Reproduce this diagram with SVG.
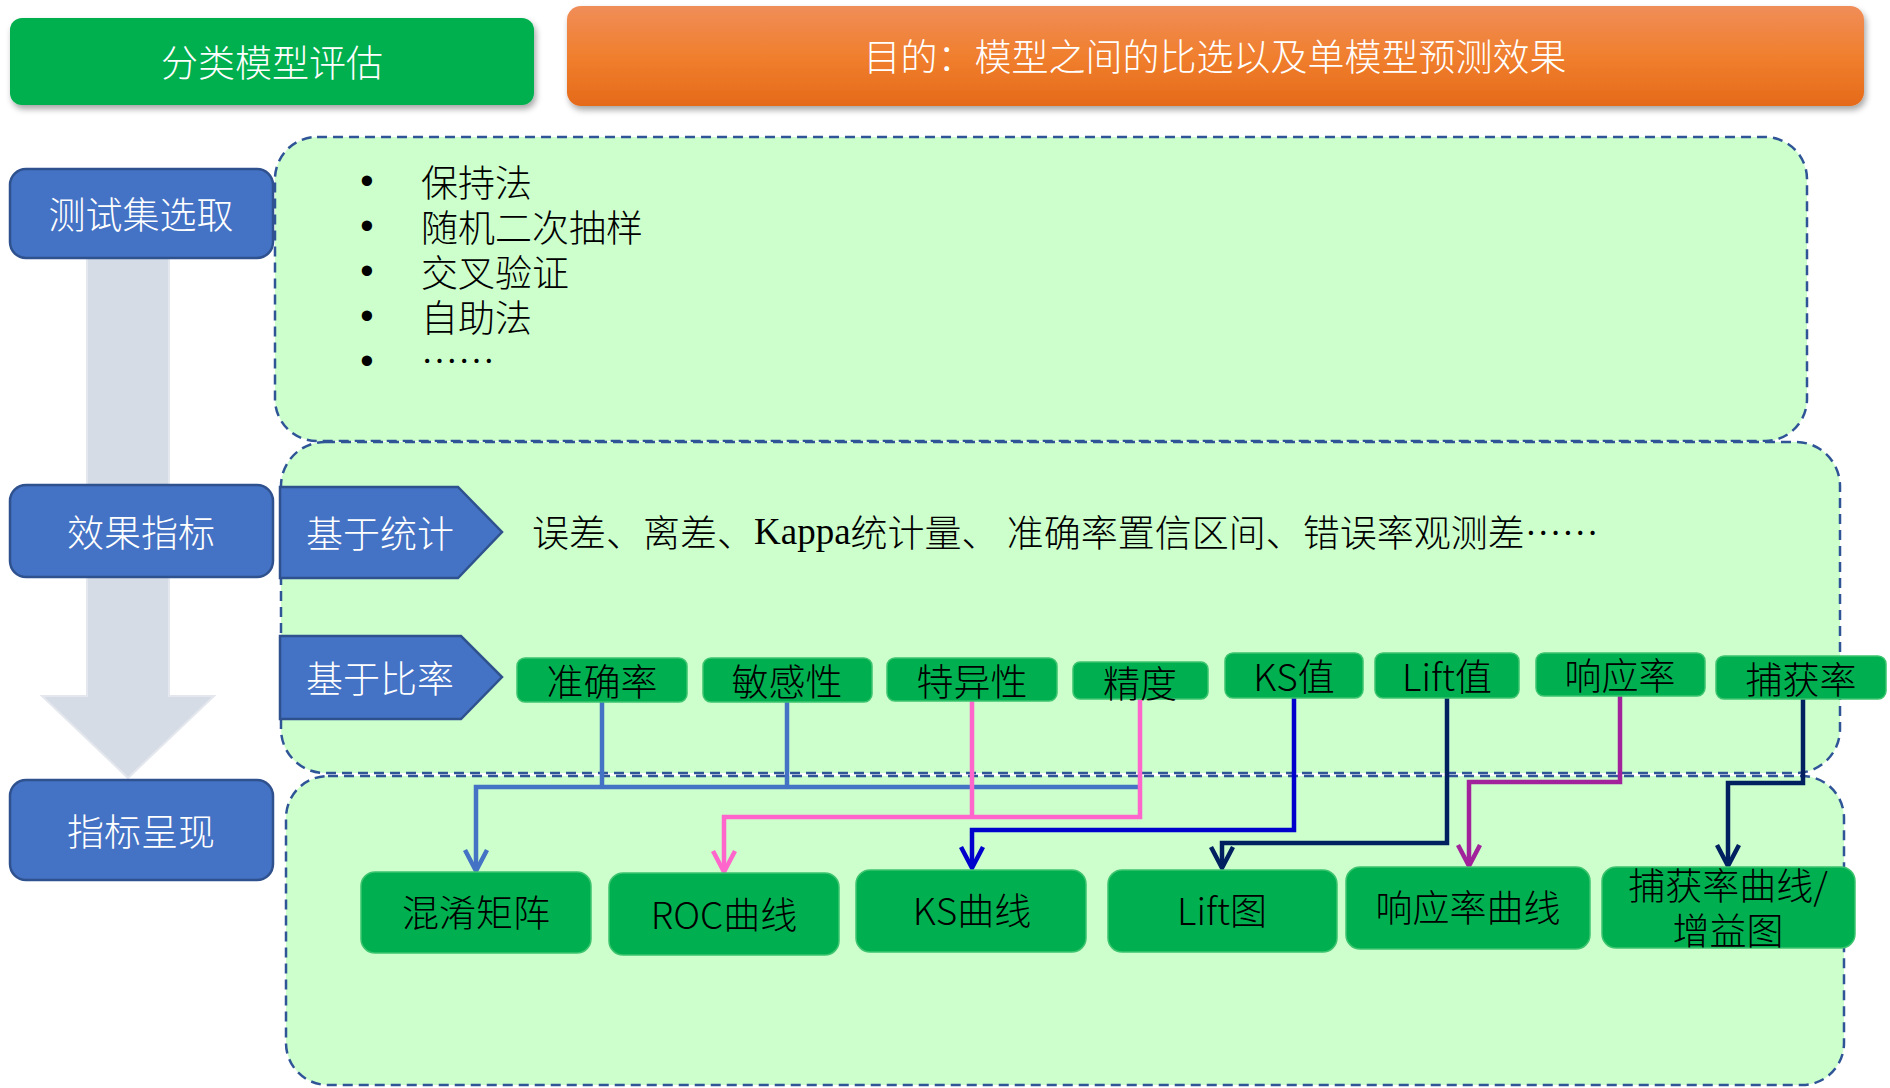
<svg xmlns="http://www.w3.org/2000/svg" width="1890" height="1088" viewBox="0 0 1890 1088">
<defs>
  <linearGradient id="orangeGrad" x1="0" y1="0" x2="0" y2="1">
    <stop offset="0" stop-color="#F08D58"/>
    <stop offset="0.5" stop-color="#F07F2E"/>
    <stop offset="1" stop-color="#E56A19"/>
  </linearGradient>
  <filter id="shadow" x="-5%" y="-20%" width="110%" height="150%">
    <feDropShadow dx="2" dy="4" stdDeviation="3" flood-color="#000" flood-opacity="0.35"/>
  </filter>
  <style>
    .cjk { font-family: "Noto Sans CJK SC", "Noto Sans", sans-serif; font-weight: 300; }
    .title { font-size: 37px; fill: #FFFFFF; text-anchor: middle; dominant-baseline: central; }
    .side { fill: #4472C4; stroke: #2F528F; stroke-width: 2.5; }
    .sideText { font-size: 37px; fill: #FFFFFF; text-anchor: middle; dominant-baseline: central; }
    .zone { fill: #CCFFCC; stroke: #2F5597; stroke-width: 2.5; stroke-dasharray: 10 6; }
    .metric { fill: #00B050; stroke: #3DC46F; stroke-width: 1.5; }
    .metricText { font-size: 37px; fill: #000000; text-anchor: middle; dominant-baseline: central; }
    .body { font-size: 37px; fill: #000000; dominant-baseline: central; }
    .bullet { font-family: "Liberation Sans", Arial, sans-serif; font-size: 38px; fill: #000; text-anchor: middle; dominant-baseline: central; }
    .conn { fill: none; stroke-width: 4.5; stroke-linejoin: miter; stroke-linecap: butt; }
    .head { fill: none; stroke-width: 4.5; stroke-linejoin: miter; }
  </style>
</defs>

<!-- big gray flow arrow -->
<g id="flow-arrow">
  <polygon points="87,250 169,250 169,696 214,696 128,778 42,696 87,696" fill="#D6DCE5" stroke="#E4E8EE" stroke-width="2"/>
</g>

<!-- zones -->
<g id="zone-test">
  <rect class="zone" x="275" y="137" width="1532" height="304" rx="42" ry="42"/>
</g>
<g id="zone-metric">
  <rect class="zone" x="281" y="442" width="1559" height="331" rx="44" ry="44"/>
</g>
<g id="zone-present">
  <rect class="zone" x="286" y="776" width="1558" height="309" rx="42" ry="42"/>
</g>

<!-- header -->
<g id="header-title">
  <rect x="10" y="18" width="524" height="87" rx="12" ry="12" fill="#00B050" filter="url(#shadow)"/>
  <text class="cjk title" x="272" y="61">分类模型评估</text>
</g>
<g id="header-purpose">
  <rect x="567" y="6" width="1297" height="100" rx="14" ry="14" fill="url(#orangeGrad)" filter="url(#shadow)"/>
  <text class="cjk title" x="1215" y="55">目的：模型之间的比选以及单模型预测效果</text>
</g>

<!-- left stage boxes -->
<g id="stage-test">
  <rect class="side" x="10" y="169" width="263" height="89" rx="16" ry="16"/>
  <text class="cjk sideText" x="141" y="213">测试集选取</text>
</g>
<g id="stage-metric">
  <rect class="side" x="10" y="485" width="263" height="92" rx="16" ry="16"/>
  <text class="cjk sideText" x="141" y="531">效果指标</text>
</g>
<g id="stage-present">
  <rect class="side" x="10" y="780" width="263" height="100" rx="16" ry="16"/>
  <text class="cjk sideText" x="141" y="830">指标呈现</text>
</g>

<!-- test set list -->
<g id="test-list">
  <text class="bullet"><tspan x="367" y="181">•</tspan><tspan x="367" y="226">•</tspan><tspan x="367" y="271">•</tspan><tspan x="367" y="316">•</tspan><tspan x="367" y="361">•</tspan></text>
  <text class="cjk body"><tspan x="421" y="181">保持法</tspan><tspan x="421" y="226">随机二次抽样</tspan><tspan x="421" y="271">交叉验证</tspan><tspan x="421" y="316">自助法</tspan><tspan x="421" y="359">……</tspan></text>
</g>

<!-- chevrons -->
<g id="chevron-stat">
  <polygon class="side" points="280,487 458,487 502,532 458,578 280,578"/>
  <text class="cjk sideText" x="380" y="532">基于统计</text>
</g>
<g id="chevron-ratio">
  <polygon class="side" points="280,636 461,636 502,677 461,719 280,719"/>
  <text class="cjk sideText" x="380" y="677">基于比率</text>
</g>

<g id="stat-text">
  <text class="cjk body" x="532" y="531">误差、离差、<tspan font-family="'Liberation Serif', serif" font-weight="400">Kappa</tspan>统计量、 准确率置信区间、错误率观测差……</text>
</g>

<!-- connectors -->
<g id="connectors">
  <!-- blue: 准确率/敏感性/精度 -> 混淆矩阵 -->
  <g stroke="#4472C4">
    <polyline class="conn" points="602,702 602,787"/>
    <polyline class="conn" points="787,702 787,787"/>
    <polyline class="conn" points="1140,787 476,787 476,869"/>
    <polyline class="head" points="465,850 476,871 487,850"/>
  </g>
  <!-- pink: 特异性/精度 -> ROC -->
  <g stroke="#FF66CC">
    <polyline class="conn" points="972,701 972,817"/>
    <polyline class="conn" points="1140,699 1140,817 724,817 724,870"/>
    <polyline class="head" points="713,851 724,872 735,851"/>
  </g>
  <!-- KS值 -> KS曲线 -->
  <g stroke="#0000CC">
    <polyline class="conn" points="1294,698 1294,830 972,830 972,866"/>
    <polyline class="head" points="961,847 972,868 983,847"/>
  </g>
  <!-- Lift值 -> Lift图 -->
  <g stroke="#002060">
    <polyline class="conn" points="1447,698 1447,843 1222,843 1222,866"/>
    <polyline class="head" points="1211,847 1222,868 1233,847"/>
  </g>
  <!-- 响应率 -> 响应率曲线 -->
  <g stroke="#A2229C">
    <polyline class="conn" points="1620,696 1620,782 1469,782 1469,864"/>
    <polyline class="head" points="1458,845 1469,866 1480,845"/>
  </g>
  <!-- 捕获率 -> 捕获率曲线/增益图 -->
  <g stroke="#002060">
    <polyline class="conn" points="1803,699 1803,783 1728,783 1728,864"/>
    <polyline class="head" points="1717,845 1728,866 1739,845"/>
  </g>
</g>

<!-- metric boxes -->
<g id="m-accuracy">
  <rect class="metric" x="517" y="658" width="170" height="44" rx="8" ry="8"/>
  <text class="cjk metricText" x="602" y="680">准确率</text>
</g>
<g id="m-sensitivity">
  <rect class="metric" x="703" y="658" width="169" height="44" rx="8" ry="8"/>
  <text class="cjk metricText" x="787" y="680">敏感性</text>
</g>
<g id="m-specificity">
  <rect class="metric" x="887" y="658" width="170" height="43" rx="8" ry="8"/>
  <text class="cjk metricText" x="972" y="680">特异性</text>
</g>
<g id="m-precision">
  <rect class="metric" x="1073" y="662" width="135" height="37" rx="7" ry="7"/>
  <text class="cjk metricText" x="1140" y="682">精度</text>
</g>
<g id="m-ks">
  <rect class="metric" x="1225" y="653" width="138" height="45" rx="8" ry="8"/>
  <text class="cjk metricText" x="1294" y="675">KS值</text>
</g>
<g id="m-lift">
  <rect class="metric" x="1375" y="653" width="144" height="45" rx="8" ry="8"/>
  <text class="cjk metricText" x="1447" y="675">Lift值</text>
</g>
<g id="m-response">
  <rect class="metric" x="1536" y="653" width="169" height="43" rx="8" ry="8"/>
  <text class="cjk metricText" x="1620" y="674">响应率</text>
</g>
<g id="m-capture">
  <rect class="metric" x="1716" y="656" width="170" height="43" rx="8" ry="8"/>
  <text class="cjk metricText" x="1801" y="678">捕获率</text>
</g>

<!-- presentation boxes -->
<g id="p-confusion">
  <rect class="metric" x="361" y="872" width="230" height="81" rx="14" ry="14"/>
  <text class="cjk metricText" x="476" y="911">混淆矩阵</text>
</g>
<g id="p-roc">
  <rect class="metric" x="609" y="873" width="230" height="82" rx="14" ry="14"/>
  <text class="cjk metricText" x="724" y="913">ROC曲线</text>
</g>
<g id="p-ks">
  <rect class="metric" x="856" y="870" width="230" height="82" rx="14" ry="14"/>
  <text class="cjk metricText" x="972" y="909">KS曲线</text>
</g>
<g id="p-lift">
  <rect class="metric" x="1108" y="870" width="229" height="82" rx="14" ry="14"/>
  <text class="cjk metricText" x="1222" y="909">Lift图</text>
</g>
<g id="p-response">
  <rect class="metric" x="1346" y="867" width="244" height="82" rx="14" ry="14"/>
  <text class="cjk metricText" x="1468" y="906">响应率曲线</text>
</g>
<g id="p-capture">
  <rect class="metric" x="1602" y="867" width="253" height="81" rx="14" ry="14"/>
  <text class="cjk metricText"><tspan x="1728" y="884">捕获率曲线/</tspan><tspan x="1728" y="929">增益图</tspan></text>
</g>
</svg>
